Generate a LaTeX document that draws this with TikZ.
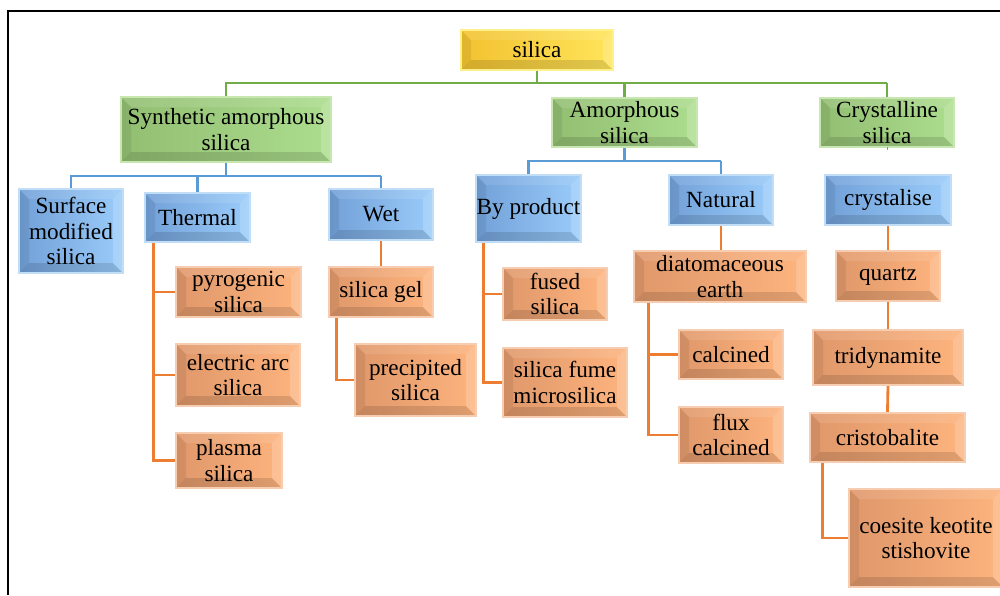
\documentclass[tikz,border=0pt]{standalone}
\usepackage{fontspec}
\setmainfont{Liberation Serif}
\usetikzlibrary{calc}

\definecolor{ylwA}{HTML}{F2C230}
\definecolor{ylwB}{HTML}{FFE45A}
\definecolor{ylwE}{HTML}{FFF08A}
\definecolor{grnA}{HTML}{92BE72}
\definecolor{grnB}{HTML}{ACDD8E}
\definecolor{grnE}{HTML}{C8E6B0}
\definecolor{bluA}{HTML}{72A0D8}
\definecolor{bluB}{HTML}{9ACCFA}
\definecolor{bluE}{HTML}{C2DDF6}
\definecolor{orgA}{HTML}{E0976A}
\definecolor{orgB}{HTML}{FDB47E}
\definecolor{orgE}{HTML}{F6CDB0}
\definecolor{gline}{HTML}{70AD47}
\definecolor{bline}{HTML}{5B9BD5}
\definecolor{oline}{HTML}{ED7D31}

\tikzset{
  bevel/.style={path picture={
      \path (path picture bounding box.north west) coordinate (pnw)
            (path picture bounding box.south east) coordinate (pse);
      \fill[white,opacity=.10] (pnw) -- (pnw -| pse) -- ($(pnw -| pse)+(-10,10)$) -- ($(pnw)+(10,10)$) -- cycle;
      \fill[black,opacity=.07] (pnw) -- ($(pnw)+(10,10)$) -- ($(pse -| pnw)+(10,-10)$) -- (pse -| pnw) -- cycle;
      \fill[black,opacity=.12] (pse -| pnw) -- ($(pse -| pnw)+(10,-10)$) -- ($(pse)+(-10,-10)$) -- (pse) -- cycle;
      \fill[white,opacity=.18] (pse) -- ($(pse)+(-10,-10)$) -- ($(pnw -| pse)+(-10,10)$) -- (pnw -| pse) -- cycle;
    }},
  box/.style={inner sep=0pt, align=center, line width=1.6pt,
    font=\fontsize{16.5}{18}\selectfont, bevel},
  ybox/.style={box, draw=ylwE, left color=ylwA, right color=ylwB},
  gbox/.style={box, draw=grnE, left color=grnA, right color=grnB},
  bbox/.style={box, draw=bluE, left color=bluA, right color=bluB},
  obox/.style={box, draw=orgE, left color=orgA, right color=orgB},
  wh/.style 2 args={minimum width=#1*0.025cm, minimum height=#2*0.025cm},
  vh/.style={to path={|- (\tikztotarget)}}
}

\begin{document}
\begin{tikzpicture}[x=0.025cm, y=-0.025cm]
  \useasboundingbox (0,0) rectangle (1000,595);
  \draw[line width=1.4pt] (8,595) -- (8,11) -- (1000,11);

  % top levels
  \node[ybox, wh={152}{40}] (silica) at (537,50)    {silica};
  \node[gbox, wh={210}{65}] (syn)    at (226,129.5) {Synthetic amorphous\\silica};
  \node[gbox, wh={145}{49}] (amo)    at (624.5,122.5) {Amorphous\\silica};
  \node[gbox, wh={134}{49}] (cry)    at (887,122.5) {Crystalline\\silica};

  \node[bbox, wh={104}{84}] (surf)   at (71,231)    {Surface\\modified\\silica};
  \node[bbox, wh={105}{49}] (therm)  at (197.5,217.5) {Thermal};
  \node[bbox, wh={104}{51}] (wet)    at (381,214.5) {Wet};
  \node[bbox, wh={105}{67}] (byp)    at (528.5,208.5) {By product};
  \node[bbox, wh={104}{50}] (nat)    at (721,200)   {Natural};
  \node[bbox, wh={126}{50}] (crys)   at (888,200)   {crystalise};

  % orange leaves
  \begin{scope}[every node/.style={obox}]
    \node[wh={125}{50}] (pyro)  at (238.5,292) {pyrogenic\\silica};
    \node[wh={124}{62}] (elec)  at (238,375)   {electric arc\\silica};
    \node[wh={106}{55}] (plas)  at (229,460.5) {plasma\\silica};
    \node[wh={104}{50}] (gel)   at (381,292)   {silica gel};
    \node[wh={121}{72}] (prec)  at (415.5,380) {precipited\\silica};
    \node[wh={104}{52}] (fused) at (555,294)   {fused\\silica};
    \node[wh={124}{69}] (fume)  at (565,382.5) {silica fume\\microsilica};
    \node[wh={172}{51}] (diat)  at (720,276.5) {diatomaceous\\earth};
    \node[wh={104}{49}] (calc)  at (731,354.5) {calcined};
    \node[wh={104}{56}] (flux)  at (731,435)   {flux\\calcined};
    \node[wh={104}{50}] (qtz)   at (888,276)   {quartz};
    \node[wh={150}{55}] (trid)  at (888,357.5) {tridynamite};
    \node[wh={155}{49}] (cris)  at (887.5,437.5) {cristobalite};
    \node[wh={154}{98}] (coes)  at (926,538)   {coesite keotite\\stishovite};
  \end{scope}

  \coordinate (gbus) at (887,83);
  \coordinate (bbus) at (381,176);
  \coordinate (abus) at (721,161);

  \begin{scope}[line width=2pt, gline]
    \path (syn.north) edge[vh] (gbus);
    \path (gbus) edge (cry.north);
    \path (silica.south) edge (silica.south |- gbus);
    \path (amo.north) edge (amo.north |- gbus);
  \end{scope}
  \begin{scope}[line width=2pt, bline]
    \path (surf.north) edge[vh] (bbus);
    \path (bbus) edge (wet.north);
    \path (syn.south) edge (syn.south |- bbus);
    \path (therm.north) edge (therm.north |- bbus);
    \path (byp.north) edge[vh] (abus);
    \path (abus) edge (nat.north);
    \path (amo.south) edge (amo.south |- abus);
    \path (cry.south) edge (cry.south -| crys.north);
  \end{scope}
  \begin{scope}[line width=2pt, oline]
    \path ($(therm.south west)+(10,0)$) edge[vh] (pyro.west);
    \path ($(therm.south west)+(10,0)$) edge[vh] (elec.west);
    \path ($(therm.south west)+(10,0)$) edge[vh] (plas.west);
    \path (wet.south) edge (gel.north);
    \path ($(gel.south west)+(9,0)$) edge[vh] (prec.west);
    \path ($(byp.south west)+(9,0)$) edge[vh] (fused.west);
    \path ($(byp.south west)+(9,0)$) edge[vh] (fume.west);
    \path (nat.south) edge (nat.south |- diat.north);
    \path ($(diat.south west)+(16,0)$) edge[vh] (calc.west);
    \path ($(diat.south west)+(16,0)$) edge[vh] (flux.west);
    \path (crys.south) edge (qtz.north);
    \path (qtz.south) edge (trid.north);
    \path (trid.south) edge (cris.north);
    \path ($(cris.south west)+(14,0)$) edge[vh] (coes.west);
  \end{scope}
\end{tikzpicture}
\end{document}
